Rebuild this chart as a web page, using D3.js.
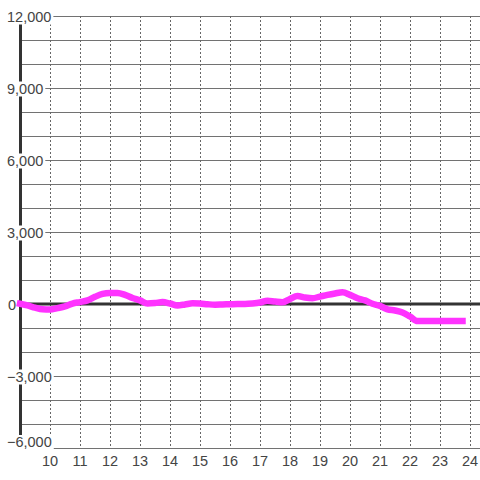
<!DOCTYPE html>
<html>
<head>
<meta charset="UTF-8">
<script src="https://d3js.org/d3.v7.min.js"></script>
<style>
  body { margin: 0; background: #fff; }
  svg { display: block; font-family: "Liberation Sans", Arial, sans-serif; }
  .tick-label { font-size: 14.5px; fill: #444; }
</style>
</head>
<body>
<div id="chart"></div>
<script>
// hours (quarter steps) and series values
const hours = [
  9.00, 9.25, 9.50, 9.75, 10.00, 10.25, 10.50, 10.75, 11.00, 11.25, 11.50, 11.75,
  12.00, 12.25, 12.50, 12.75, 13.00, 13.25, 13.50, 13.75, 14.00, 14.25, 14.50, 14.75,
  15.00, 15.25, 15.50, 15.75, 16.00, 16.25, 16.50, 16.75, 17.00, 17.25, 17.50, 17.75,
  18.00, 18.25, 18.50, 18.75, 19.00, 19.25, 19.50, 19.75, 20.00, 20.25, 20.50, 20.75,
  21.00, 21.25, 21.50, 21.75, 22.00, 22.25, 22.50, 22.75, 23.00, 23.25, 23.50, 23.75
];
const values = [
  10, -60, -150, -220, -230, -170, -100, 20, 80, 150, 300, 420,
  460, 460, 380, 250, 150, 20, 40, 80, 20, -60, -20, 30,
  20, -10, -30, -20, -10, 0, 0, 20, 60, 140, 100, 70,
  210, 330, 270, 240, 310, 380, 440, 490, 380, 240, 150, 10,
  -80, -220, -270, -350, -520, -710, -710, -710, -710, -710, -710, -710
];
const xTicks = [10, 11, 12, 13, 14, 15, 16, 17, 18, 19, 20, 21, 22, 23, 24];
const yTicks = [-6000, -3000, 0, 3000, 6000, 9000, 12000];
const yGrid = d3.range(-6000, 12001, 1000);

const W = 480, H = 480;
const plotLeft = 20, plotRight = 480, plotTop = 16, plotBottom = 448;

const svg = d3.select("#chart").append("svg")
    .attr("width", W)
    .attr("height", H);

svg.append("rect").attr("width", W).attr("height", H).attr("fill", "#fff");

const x = d3.scaleLinear().domain([9, 24 + 1/3]).range([plotLeft, plotRight]);
const y = d3.scaleLinear().domain([-6000, 12000]).range([plotBottom, plotTop]);

// horizontal grid
svg.append("g").selectAll("line")
    .data(yGrid)
    .join("line")
    .attr("x1", plotLeft).attr("x2", plotRight)
    .attr("y1", d => Math.round(y(d)) + 0.5)
    .attr("y2", d => Math.round(y(d)) + 0.5)
    .attr("stroke", "#727272")
    .attr("stroke-width", 1);

// vertical dotted grid
svg.append("g").selectAll("line")
    .data(xTicks)
    .join("line")
    .attr("x1", d => Math.round(x(d)) + 0.5)
    .attr("x2", d => Math.round(x(d)) + 0.5)
    .attr("y1", plotTop).attr("y2", plotBottom)
    .attr("stroke", "#666")
    .attr("stroke-width", 1)
    .attr("stroke-dasharray", "2,2");

// zero line
svg.append("line")
    .attr("x1", plotLeft).attr("x2", plotRight)
    .attr("y1", y(0)).attr("y2", y(0))
    .attr("stroke", "#333")
    .attr("stroke-width", 3);

// left axis line
svg.append("line")
    .attr("x1", plotLeft + 0.5).attr("x2", plotLeft + 0.5)
    .attr("y1", plotTop).attr("y2", plotBottom)
    .attr("stroke", "#333")
    .attr("stroke-width", 3);

// y labels with white background
const fmt = d3.format(",");
const yLab = svg.append("g");
yTicks.forEach(v => {
  const g = yLab.append("g");
  const t = g.append("text")
      .attr("class", "tick-label")
      .attr("y", Math.min(y(v) + 5.5, plotBottom - 1))
      .text(fmt(v));
  if (v === 0) {
    t.attr("x", 8).attr("text-anchor", "start");
  } else {
    t.attr("x", 43).attr("text-anchor", "end");
    const bb = t.node().getBBox();
    if (bb.x < 7) t.attr("x", 7).attr("text-anchor", "start");
  }
  const b = t.node().getBBox();
  g.insert("rect", "text")
      .attr("x", b.x - 3)
      .attr("y", b.y + 1)
      .attr("width", b.width + 5)
      .attr("height", b.height - 1)
      .attr("fill", "#fff");
});

// x labels
svg.append("g").selectAll("text")
    .data(xTicks)
    .join("text")
    .attr("class", "tick-label")
    .attr("x", d => x(d))
    .attr("y", 466)
    .attr("text-anchor", "middle")
    .text(d => d);

// series line
const line = d3.line()
    .x((d, i) => x(hours[i]))
    .y(d => y(d))
    .curve(d3.curveMonotoneX);

svg.append("path")
    .datum(values)
    .attr("d", line)
    .attr("fill", "none")
    .attr("stroke", "#ff33ff")
    .attr("stroke-width", 6.5)
    .attr("stroke-linejoin", "round")
    .attr("stroke-linecap", "square");
</script>
</body>
</html>
